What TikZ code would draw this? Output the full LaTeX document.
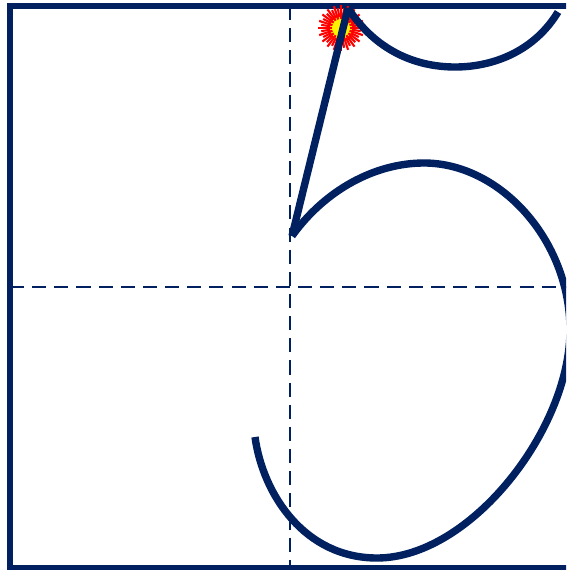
\documentclass[tikz,border=0pt]{standalone}
\usepackage{tikz}
\definecolor{navy}{RGB}{0,32,96}
\tikzset{
  box/.style={draw=navy, line width=1.5pt},
  guide/.style={draw=navy, line width=0.6pt, dash pattern=on 4pt off 2.3pt},
  pen/.style={draw=navy, line width=2.1pt},
  spark/.style={draw=red, line width=0.6pt}
}

\begin{document}
\begin{tikzpicture}[x=0.01cm, y=-0.01cm]
  \useasboundingbox (0,0) rectangle (566,570);
  \clip (0,0) rectangle (566,570);

  % writing box and its two guide lines
  \draw[box] (10,6) rectangle (570,568);
  \draw[guide] (290,6) -- (290,568);
  \draw[guide] (10,287) -- (570,287);

  % start marker (spark)
  \coordinate (spk) at (341,28);
  \fill[yellow] (spk) circle (14);
  \foreach \a in {0,18,...,342} {
    \draw[spark] (spk) ++(\a:9) -- ++(\a:14);
    \draw[spark] (spk) ++(\a+9:11) -- ++(\a+9:9);
  }

  % the figure five
  \coordinate (top) at (348,8);
  \coordinate (kink) at (292,236);
  \coordinate (tail) at (255,437);
  \draw[pen] (top) .. controls (375,50) and (415,67) .. (455,67)
             .. controls (495,67) and (535,50) .. (558,12);
  \draw[pen] (top) -- (kink);
  \draw[pen] (kink) .. controls (325,190) and (375,163) .. (424,163)
             .. controls (500,163) and (570,240) .. (570,330)
             .. controls (570,430) and (470,558) .. (377,558)
             .. controls (305,558) and (263,495) .. (tail);
\end{tikzpicture}
\end{document}
